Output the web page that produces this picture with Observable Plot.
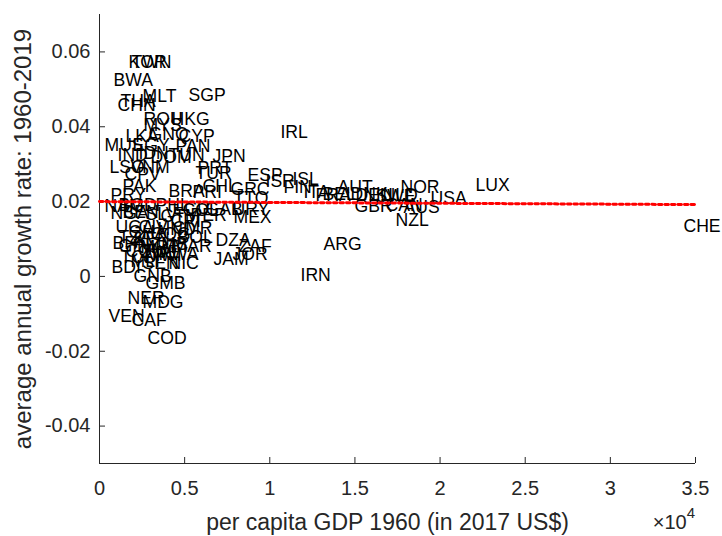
<!DOCTYPE html>
<html><head><meta charset="utf-8">
<script src="https://cdn.jsdelivr.net/npm/d3@7"></script>
<script src="https://cdn.jsdelivr.net/npm/@observablehq/plot@0.6"></script>
<style>
body{margin:0;background:#fff;}
#chart{position:relative;width:722px;height:536px;font-family:"Liberation Sans",Arial,sans-serif;}
#expo{position:absolute;right:27px;top:507px;font-size:20px;color:#262626;white-space:nowrap;}
#expo sup{font-size:15px;position:relative;top:-3px;}
</style>
</head><body><div id="chart"></div>
<script>
const countries = ["KOR","TWN","BWA","THA","CHN","MLT","SGP","ROU","HKG","MYS","LKA","GNQ","CYP","MUS","EGY","PAN","IND","IDN","DOM","TUN","JPN","LSO","VNM","CPV","PRT","TUR","ESP","ISR","ISL","FIN","IRL","PAK","CHL","GRC","BRA","PRI","TTO","PRY","ITA","FRA","BEL","AUT","DNK","DEU","SWE","NLD","NOR","USA","GBR","CAN","AUS","NZL","LUX","CHE","ARG","IRN","NAM","BGD","PHL","ECU","COL","GAB","URY","MEX","PER","NGA","BEN","SLV","GTM","CRI","UGA","CIV","HND","CMR","GHA","COG","BOL","TZA","KEN","BFA","ZMB","GIN","MRT","MAR","COM","ZWE","TCD","MWI","RWA","MLI","BDI","SEN","NIC","GNB","GMB","NER","MDG","VEN","CAF","COD","DZA","ZAF","JAM","JOR"];
const gdp1960 = [1703,1879,822,1233,1057,2525,5226,2584,4228,2584,1527,2877,4639,294,1938,4463,1057,2290,2995,4052,6635,587,1820,1468,5755,5637,8691,9748,11333,10804,10628,1351,6048,7692,4052,5461,7868,646,11979,12684,13095,13975,14739,15032,16207,16618,17675,19436,14974,16794,17851,17381,22079,34292,13153,11803,294,1116,3288,4287,4874,6224,7810,7868,5344,646,1351,2701,3582,4169,940,2290,3406,4287,1703,2995,4580,1116,1997,763,2995,1116,2408,4287,1527,2408,1233,2701,3465,1820,705,2525,4052,1997,2701,1644,2525,528,1879,2818,6812,8162,6694,7810];
const growth = [0.0573,0.0573,0.0523,0.0469,0.0456,0.0480,0.0483,0.0421,0.0421,0.0403,0.0373,0.0379,0.0373,0.0349,0.0349,0.0347,0.0323,0.0328,0.0317,0.0323,0.0320,0.0291,0.0291,0.0272,0.0288,0.0275,0.0269,0.0253,0.0259,0.0237,0.0384,0.0240,0.0240,0.0232,0.0227,0.0224,0.0208,0.0216,0.0224,0.0216,0.0219,0.0237,0.0219,0.0216,0.0213,0.0216,0.0237,0.0208,0.0187,0.0189,0.0184,0.0149,0.0243,0.0133,0.0085,0.0003,0.0187,0.0189,0.0189,0.0181,0.0176,0.0179,0.0179,0.0157,0.0163,0.0168,0.0171,0.0165,0.0160,0.0147,0.0131,0.0131,0.0125,0.0128,0.0117,0.0112,0.0104,0.0104,0.0099,0.0088,0.0085,0.0080,0.0077,0.0080,0.0067,0.0064,0.0051,0.0056,0.0059,0.0040,0.0024,0.0035,0.0035,0.0000,-0.0019,-0.0059,-0.0069,-0.0107,-0.0117,-0.0165,0.0096,0.0080,0.0045,0.0059];
const fitX = [0, 35000];
const fitY = [0.0200, 0.0192];
const xDomain = [0, 35000];
const yDomain = [-0.05, 0.07];
const xTicks = [0,5000,10000,15000,20000,25000,30000,35000];
const xTickLabels = ["0","0.5","1","1.5","2","2.5","3","3.5"];
const yTicks = [-0.04,-0.02,0,0.02,0.04,0.06];
const yTickLabels = ["-0.04","-0.02","0","0.02","0.04","0.06"];
const xLabel = "per capita GDP 1960 (in 2017 US$)";
const yLabel = "average annual growth rate: 1960-2019";

const data = countries.map((c,i)=>({code:c, x:gdp1960[i], y:growth[i]}));
const fit = fitX.map((x,i)=>({x, y:fitY[i]}));
const axisColor = "#262626";

const plot = Plot.plot({
  width:722, height:536, marginLeft:99, marginRight:27, marginTop:14, marginBottom:73,
  style:{fontFamily:'"Liberation Sans", Arial, sans-serif', fontSize:"20px", background:"#fff", color:axisColor, overflow:"visible"},
  x:{domain:xDomain},
  y:{domain:yDomain},
  marks:[
    Plot.axisX({ticks:xTicks, tickFormat:d=>xTickLabels[xTicks.indexOf(d)], tickSize:0, tickPadding:17, label:null, fill:axisColor}),
    Plot.axisY({ticks:yTicks, tickFormat:d=>yTickLabels[yTicks.findIndex(t=>Math.abs(t-d)<1e-9)], tickSize:0, tickPadding:9, label:null, fill:axisColor}),
    Plot.ruleX(xTicks, {y1:yDomain[0], y2:yDomain[0], insetTop:-6, stroke:axisColor}),
    Plot.ruleY(yTicks, {x1:xDomain[0], x2:xDomain[0], insetRight:-6, stroke:axisColor}),
    Plot.ruleX([xDomain[0]], {stroke:axisColor}),
    Plot.ruleY([yDomain[0]], {stroke:axisColor}),
    Plot.text(data, {x:"x", y:"y", text:"code", textAnchor:"start", lineAnchor:"middle", fontSize:17.6, fill:"black"}),
    Plot.line(fit, {x:"x", y:"y", stroke:"#ff0000", strokeWidth:3, strokeDasharray:"3.5,3"}),
    Plot.text([yLabel], {frameAnchor:"left", dx:-76, rotate:-90, fontSize:24, textAnchor:"middle", lineAnchor:"middle", fill:axisColor}),
    Plot.text([xLabel], {frameAnchor:"bottom", dx:-10, dy:59, fontSize:23, textAnchor:"middle", lineAnchor:"middle", fill:axisColor})
  ]
});
const chart = document.getElementById("chart");
chart.appendChild(plot);
const expo = document.createElement("div");
expo.id = "expo";
expo.innerHTML = "×10<sup>4</sup>";
chart.appendChild(expo);
</script>
</body></html>
